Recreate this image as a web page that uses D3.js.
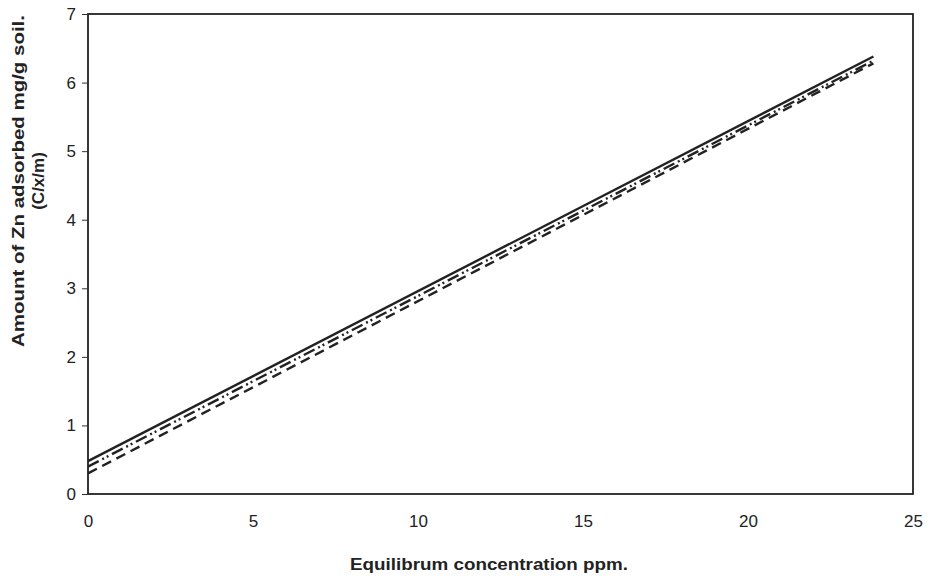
<!DOCTYPE html>
<html lang="en">
<head>
<meta charset="utf-8">
<title>Zn adsorption</title>
<script src="https://d3js.org/d3.v7.min.js"></script>
<style>
  body { margin: 0; background: #fff; }
  text { font-family: Arial, "Liberation Sans", sans-serif; fill: #222; }
</style>
</head>
<body>
<script>
var xTicks = [0, 5, 10, 15, 20, 25];
var yTicks = [0, 1, 2, 3, 4, 5, 6, 7];

// each line: concentration (ppm) and amount adsorbed at the two ends
var concentration = [0, 23.8];
var solidLine = [0.48, 6.38];
var dashDotLine = [0.40, 6.32];
var dashedLine = [0.30, 6.28];

var w = 934, h = 580;
var mLeft = 88, mRight = 913, mTop = 14, mBottom = 494;
var font = "Arial, 'Liberation Sans', sans-serif";

var svg = d3.select("body").append("svg")
  .attr("width", w).attr("height", h);

var x = d3.scaleLinear().domain([0, 25]).range([mLeft, mRight]);
var y = d3.scaleLinear().domain([0, 7]).range([mBottom, mTop]);

// frame
svg.append("rect")
  .attr("x", mLeft).attr("y", mTop)
  .attr("width", mRight - mLeft).attr("height", mBottom - mTop)
  .attr("fill", "none").attr("stroke", "#222").attr("stroke-width", 1.8);

// y axis
var yAxis = svg.append("g")
  .attr("transform", "translate(" + mLeft + ",0)")
  .call(d3.axisLeft(y).tickValues(yTicks).tickSize(6).tickPadding(6).tickFormat(d3.format("d")));
yAxis.select(".domain").remove();
yAxis.selectAll("line").attr("stroke", "#333");
yAxis.selectAll("text").attr("font-size", 17).attr("font-family", font).attr("fill", "#222");

// x axis
var xAxis = svg.append("g")
  .attr("transform", "translate(0," + mBottom + ")")
  .call(d3.axisBottom(x).tickValues(xTicks).tickSize(0).tickPadding(21).tickFormat(d3.format("d")));
xAxis.select(".domain").remove();
xAxis.selectAll("text").attr("font-size", 17).attr("font-family", font).attr("fill", "#222");

var line = d3.line()
  .x(function(d) { return x(d[0]); })
  .y(function(d) { return y(d[1]); });

var series = [
  { values: dashedLine, dash: "10,6" },
  { values: dashDotLine, dash: "12,4,2,3,2,4" },
  { values: solidLine, dash: null }
];

svg.selectAll("path.series")
  .data(series)
  .enter()
  .append("path")
  .attr("class", "series")
  .attr("d", function(s) { return line(concentration.map(function(c, i) { return [c, s.values[i]]; })); })
  .attr("fill", "none")
  .attr("stroke", "#222")
  .attr("stroke-width", 2.4)
  .attr("stroke-dasharray", function(s) { return s.dash; });

// titles
svg.append("text")
  .attr("x", 489).attr("y", 570)
  .attr("text-anchor", "middle")
  .attr("font-size", 17).attr("font-weight", "bold")
  .attr("textLength", 278).attr("lengthAdjust", "spacingAndGlyphs")
  .text("Equilibrum concentration ppm.");

var yt = svg.append("text")
  .attr("transform", "translate(24,181) rotate(-90)")
  .attr("text-anchor", "middle")
  .attr("font-size", 17).attr("font-weight", "bold");
yt.append("tspan").attr("x", 0).attr("dy", 0)
  .attr("textLength", 332).attr("lengthAdjust", "spacingAndGlyphs")
  .text("Amount of Zn adsorbed mg/g soil.");
yt.append("tspan").attr("x", 0).attr("dy", 20).text("(C/x/m)");
</script>
</body>
</html>
